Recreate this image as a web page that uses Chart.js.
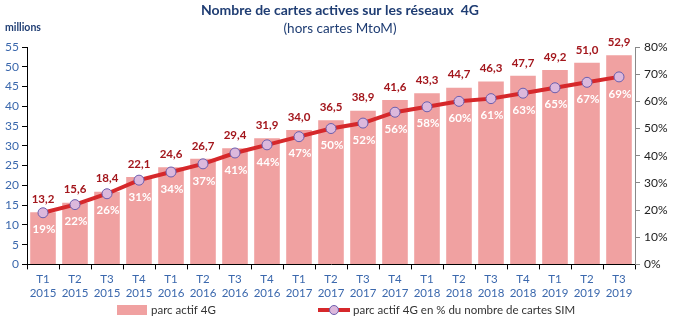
<!DOCTYPE html>
<html>
<head>
<meta charset="utf-8">
<script src="https://cdn.jsdelivr.net/npm/chart.js@4/dist/chart.umd.min.js"></script>
<style>
  body { margin: 0; background: #fff; }
  #wrap { width: 679px; height: 323px; }
</style>
</head>
<body>
<div id="wrap"><canvas id="canvas"></canvas></div>
<script>
// quarters and years for the x axis
let quarters = ['T1','T2','T3','T4','T1','T2','T3','T4','T1','T2','T3','T4','T1','T2','T3','T4','T1','T2','T3'];
let years = ['2015','2015','2015','2015','2016','2016','2016','2016','2017','2017','2017','2017','2018','2018','2018','2018','2019','2019','2019'];

// parc actif 4G (millions)
let parc = [13.2, 15.6, 18.4, 22.1, 24.6, 26.7, 29.4, 31.9, 34.0, 36.5, 38.9, 41.6, 43.3, 44.7, 46.3, 47.7, 49.2, 51.0, 52.9];
// part of SIM cards (%)
let pct = [19, 22, 26, 31, 34, 37, 41, 44, 47, 50, 52, 56, 58, 60, 61, 63, 65, 67, 69];

let labels = [];
for (let i = 0; i < quarters.length; i++) {
  labels.push([quarters[i], years[i]]);
}

let blue = '#3b68ad';
let navy = '#1f3d73';
let barColor = '#f0a1a1';
let lineColor = '#d6282b';
let fontName = 'Lato, "Open Sans", sans-serif';

// title, unit, value labels and the legend
let extras = {
  id: 'extras',
  afterDatasetsDraw(chart) {
    let ctx = chart.ctx;
    ctx.save();
    ctx.textAlign = 'center';
    ctx.textBaseline = 'middle';
    ctx.fillStyle = navy;
    ctx.font = 'bold 14px ' + fontName;
    ctx.fillText('Nombre de cartes actives sur les réseaux  4G', 340, 10);
    ctx.font = '13.5px ' + fontName;
    ctx.fillText('(hors cartes MtoM)', 340, 29);
    ctx.textAlign = 'left';
    ctx.font = 'bold 10.5px ' + fontName;
    ctx.fillText('millions', 5, 28);

    let bars = chart.getDatasetMeta(0).data;
    let pts = chart.getDatasetMeta(1).data;
    ctx.textAlign = 'center';
    ctx.font = 'bold 11.5px ' + fontName;
    ctx.fillStyle = '#a3161c';
    bars.forEach(function(b, i) {
      ctx.fillText(parc[i].toFixed(1).replace('.', ','), b.x, b.y - 13);
    });
    ctx.fillStyle = '#ffffff';
    pts.forEach(function(p, i) {
      ctx.fillText(pct[i] + '%', p.x + 1, p.y + 17);
    });

    // legend
    let ly = 310;
    ctx.fillStyle = barColor;
    ctx.fillRect(117, ly - 5, 30, 10);
    ctx.strokeStyle = lineColor;
    ctx.lineWidth = 4;
    ctx.beginPath(); ctx.moveTo(318, ly); ctx.lineTo(350, ly); ctx.stroke();
    ctx.fillStyle = '#dcb8dc'; ctx.strokeStyle = '#6b5fae'; ctx.lineWidth = 1;
    ctx.beginPath(); ctx.arc(334, ly, 4.5, 0, Math.PI * 2); ctx.fill(); ctx.stroke();
    ctx.fillStyle = '#333';
    ctx.textAlign = 'left';
    ctx.font = '11.5px ' + fontName;
    ctx.fillText(chart.data.datasets[0].label, 151, ly);
    ctx.fillText(chart.data.datasets[1].label, 353, ly);
    ctx.restore();
  }
};

let options = {
  type: 'bar',
  data: {
    labels: labels,
    datasets: [{
      type: 'bar',
      label: 'parc actif 4G',
      data: parc,
      backgroundColor: barColor,
      yAxisID: 'y',
      categoryPercentage: 0.8,
      barPercentage: 1.0,
      order: 2
    }, {
      type: 'line',
      label: 'parc actif 4G en % du nombre de cartes SIM',
      data: pct.map(function(v) { return v / 100; }),
      borderColor: lineColor,
      borderWidth: 4,
      pointRadius: 5,
      pointBackgroundColor: '#dcb8dc',
      pointBorderColor: '#6b5fae',
      pointBorderWidth: 1,
      yAxisID: 'y2',
      order: 1
    }]
  },
  options: {
    responsive: true,
    maintainAspectRatio: false,
    animation: false,
    layout: { padding: { top: 47, left: 0, right: 0, bottom: 20 } },
    plugins: {
      title: { display: false },
      tooltip: { enabled: false },
      legend: { display: false }
    },
    scales: {
      x: {
        grid: { display: true, drawOnChartArea: false, drawTicks: true, tickLength: 5, color: '#000', offset: true },
        border: { color: '#000' },
        ticks: { color: blue, font: { family: fontName, size: 11.5 }, maxRotation: 0, autoSkip: false, padding: 3 }
      },
      y: {
        position: 'left',
        min: 0, max: 55,
        afterFit: function(s) { s.width = 27; },
        grid: { display: true, drawOnChartArea: false, drawTicks: true, tickLength: 5, color: '#000' },
        border: { color: '#000' },
        ticks: { stepSize: 5, color: blue, font: { family: fontName, size: 12 }, padding: 3 }
      },
      y2: {
        position: 'right',
        min: 0, max: 0.8,
        afterFit: function(s) { s.width = 44; },
        grid: { display: true, drawOnChartArea: false, drawTicks: true, tickLength: 5, color: '#888' },
        border: { color: '#888' },
        ticks: {
          stepSize: 0.1, color: '#222', font: { family: fontName, size: 12 }, padding: 4,
          callback: function(v) { return Math.round(v * 100) + '%'; }
        }
      }
    }
  },
  plugins: [extras]
};

let chart = new Chart(document.getElementById('canvas'), options);
</script>
</body>
</html>
